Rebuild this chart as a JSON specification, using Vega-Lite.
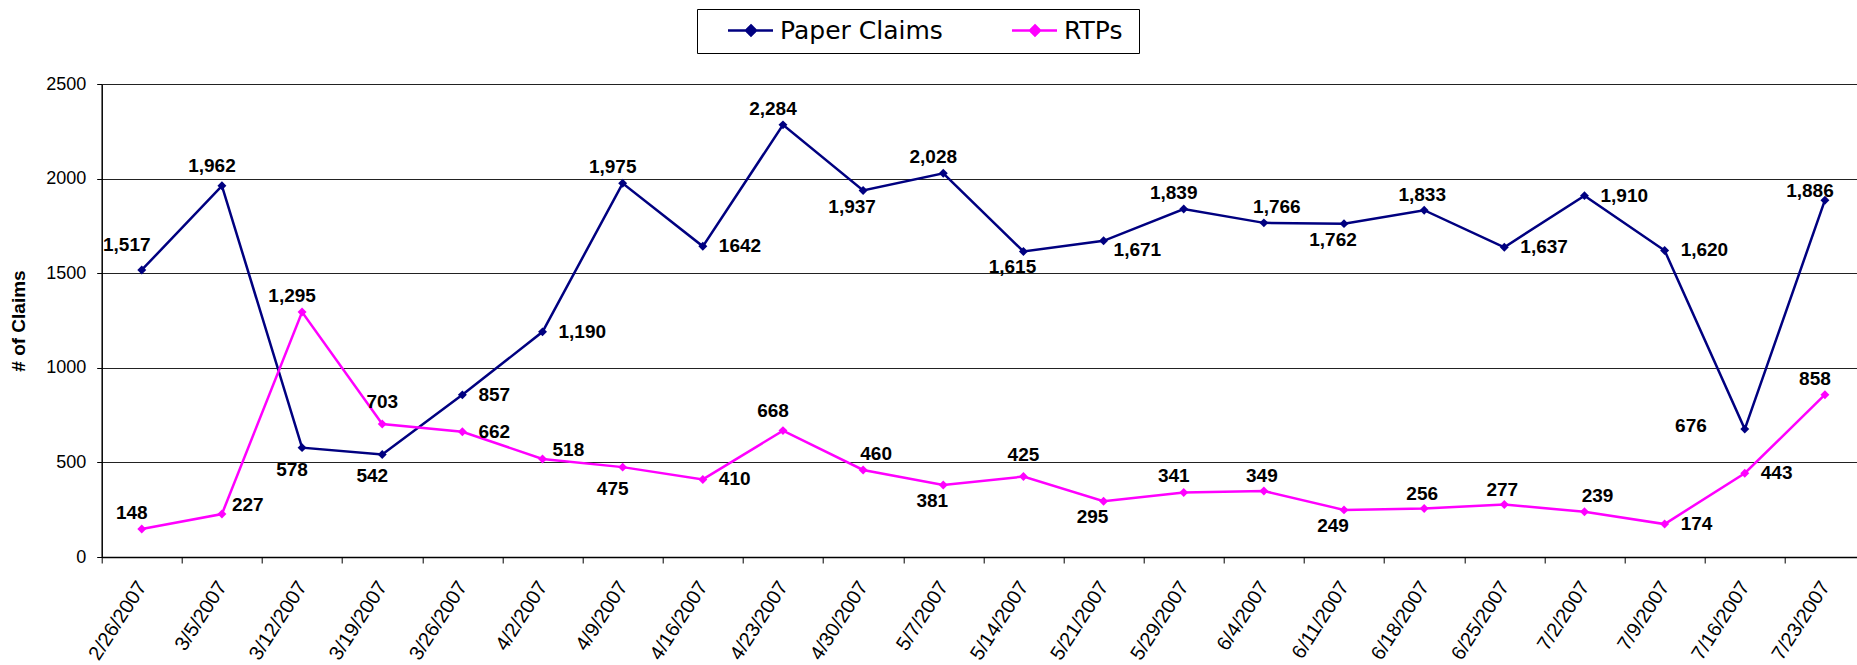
{
  "$schema": "https://vega.github.io/schema/vega-lite/v6.json",
  "width": 1755.3,
  "height": 473,
  "autosize": {"type": "none"},
  "padding": {"left": 101.7, "top": 84, "right": 0, "bottom": 108},
  "background": "white",
  "config": {
    "view": {"stroke": null},
    "text": {"font": "Liberation Sans", "fontSize": 19, "fontWeight": "bold", "color": "black", "baseline": "middle"}
  },
  "data": {
    "values": [
      {"date": "2/26/2007", "series": "Paper Claims", "value": 1517, "label": "1,517"},
      {"date": "3/5/2007", "series": "Paper Claims", "value": 1962, "label": "1,962"},
      {"date": "3/12/2007", "series": "Paper Claims", "value": 578, "label": "578"},
      {"date": "3/19/2007", "series": "Paper Claims", "value": 542, "label": "542"},
      {"date": "3/26/2007", "series": "Paper Claims", "value": 857, "label": "857"},
      {"date": "4/2/2007", "series": "Paper Claims", "value": 1190, "label": "1,190"},
      {"date": "4/9/2007", "series": "Paper Claims", "value": 1975, "label": "1,975"},
      {"date": "4/16/2007", "series": "Paper Claims", "value": 1642, "label": "1642"},
      {"date": "4/23/2007", "series": "Paper Claims", "value": 2284, "label": "2,284"},
      {"date": "4/30/2007", "series": "Paper Claims", "value": 1937, "label": "1,937"},
      {"date": "5/7/2007", "series": "Paper Claims", "value": 2028, "label": "2,028"},
      {"date": "5/14/2007", "series": "Paper Claims", "value": 1615, "label": "1,615"},
      {"date": "5/21/2007", "series": "Paper Claims", "value": 1671, "label": "1,671"},
      {"date": "5/29/2007", "series": "Paper Claims", "value": 1839, "label": "1,839"},
      {"date": "6/4/2007", "series": "Paper Claims", "value": 1766, "label": "1,766"},
      {"date": "6/11/2007", "series": "Paper Claims", "value": 1762, "label": "1,762"},
      {"date": "6/18/2007", "series": "Paper Claims", "value": 1833, "label": "1,833"},
      {"date": "6/25/2007", "series": "Paper Claims", "value": 1637, "label": "1,637"},
      {"date": "7/2/2007", "series": "Paper Claims", "value": 1910, "label": "1,910"},
      {"date": "7/9/2007", "series": "Paper Claims", "value": 1620, "label": "1,620"},
      {"date": "7/16/2007", "series": "Paper Claims", "value": 676, "label": "676"},
      {"date": "7/23/2007", "series": "Paper Claims", "value": 1886, "label": "1,886"},
      {"date": "2/26/2007", "series": "RTPs", "value": 148, "label": "148"},
      {"date": "3/5/2007", "series": "RTPs", "value": 227, "label": "227"},
      {"date": "3/12/2007", "series": "RTPs", "value": 1295, "label": "1,295"},
      {"date": "3/19/2007", "series": "RTPs", "value": 703, "label": "703"},
      {"date": "3/26/2007", "series": "RTPs", "value": 662, "label": "662"},
      {"date": "4/2/2007", "series": "RTPs", "value": 518, "label": "518"},
      {"date": "4/9/2007", "series": "RTPs", "value": 475, "label": "475"},
      {"date": "4/16/2007", "series": "RTPs", "value": 410, "label": "410"},
      {"date": "4/23/2007", "series": "RTPs", "value": 668, "label": "668"},
      {"date": "4/30/2007", "series": "RTPs", "value": 460, "label": "460"},
      {"date": "5/7/2007", "series": "RTPs", "value": 381, "label": "381"},
      {"date": "5/14/2007", "series": "RTPs", "value": 425, "label": "425"},
      {"date": "5/21/2007", "series": "RTPs", "value": 295, "label": "295"},
      {"date": "5/29/2007", "series": "RTPs", "value": 341, "label": "341"},
      {"date": "6/4/2007", "series": "RTPs", "value": 349, "label": "349"},
      {"date": "6/11/2007", "series": "RTPs", "value": 249, "label": "249"},
      {"date": "6/18/2007", "series": "RTPs", "value": 256, "label": "256"},
      {"date": "6/25/2007", "series": "RTPs", "value": 277, "label": "277"},
      {"date": "7/2/2007", "series": "RTPs", "value": 239, "label": "239"},
      {"date": "7/9/2007", "series": "RTPs", "value": 174, "label": "174"},
      {"date": "7/16/2007", "series": "RTPs", "value": 443, "label": "443"},
      {"date": "7/23/2007", "series": "RTPs", "value": 858, "label": "858"}
    ]
  },
  "encoding": {
    "x": {
      "field": "date", "type": "ordinal", "sort": null,
      "scale": {"type": "band", "range": [0, 1763.3], "paddingInner": 0, "paddingOuter": 0},
      "axis": {
        "title": null, "labelAngle": -57, "labelAlign": "right", "labelBaseline": "middle",
        "labelFont": "Liberation Sans", "labelFontSize": 20, "labelColor": "black",
        "labelPadding": 20, "tickSize": 6, "tickBand": "extent", "tickColor": "black",
        "domainColor": "black", "domainWidth": 1.5, "grid": false, "labelOverlap": false, "labelBound": false
      }
    },
    "y": {
      "field": "value", "type": "quantitative",
      "scale": {"domain": [0, 2500], "nice": false, "zero": true},
      "axis": {
        "values": [0, 500, 1000, 1500, 2000, 2500], "format": "d", "grid": true, "gridColor": "#222222", "gridWidth": 1,
        "domainColor": "black", "domainWidth": 1.5, "tickColor": "black", "tickSize": 5,
        "labelFont": "Liberation Sans", "labelFontSize": 18, "labelColor": "black", "labelPadding": 11,
        "title": "# of Claims", "titleFont": "Liberation Sans", "titleFontSize": 19, "titleFontWeight": "bold",
        "titleColor": "black", "titleX": -83.7, "titleBaseline": "middle"
      }
    }
  },
  "layer": [
    {
      "mark": {"type": "line", "strokeWidth": 2.5},
      "encoding": {
        "color": {
          "field": "series", "type": "nominal",
          "scale": {"domain": ["Paper Claims", "RTPs"], "range": ["#000080", "#FF00FF"]},
          "legend": {
            "orient": "none", "legendX": 595.3, "legendY": -75, "direction": "horizontal",
            "title": "xx", "titleOrient": "right", "titleOpacity": 0, "titleFontSize": 5, "titlePadding": 0,
            "titleFont": "DejaVu Sans",
            "symbolType": "M-0.385,0L1,0M0.323,-0.154L0.477,0L0.323,0.154L0.169,0Z",
            "symbolSize": 4225, "symbolStrokeWidth": 2.5, "clipHeight": 24,
            "labelFont": "DejaVu Sans", "labelFontSize": 25, "labelColor": "black", "labelOffset": 5.5,
            "labelLimit": 400,
            "columnPadding": 47, "padding": 9.5, "strokeColor": "#000000", "fillColor": "white",
            "encode": {"symbols": {"update": {"fill": {"scale": "color", "field": "value"}, "stroke": {"scale": "color", "field": "value"}}}}
          }
        }
      }
    },
    {
      "mark": {"type": "point", "shape": "diamond", "filled": true, "size": 80, "opacity": 1},
      "encoding": {
        "color": {"field": "series", "type": "nominal", "legend": null}
      }
    },
    {
      "transform": [{"filter": {"field": "value", "oneOf": [1295, 148, 1975, 2284, 2028, 1839, 341, 858]}}],
      "mark": {"type": "text", "align": "center", "dx": -10, "dy": -16},
      "encoding": {"text": {"field": "label"}}
    },
    {
      "transform": [{"filter": {"field": "value", "oneOf": [1962, 668]}}],
      "mark": {"type": "text", "align": "center", "dx": -10, "dy": -20},
      "encoding": {"text": {"field": "label"}}
    },
    {
      "transform": [{"filter": {"field": "value", "oneOf": [349, 1833, 256, 277]}}],
      "mark": {"type": "text", "align": "center", "dx": -2, "dy": -15},
      "encoding": {"text": {"field": "label"}}
    },
    {
      "transform": [{"filter": {"field": "value", "oneOf": [703, 425]}}],
      "mark": {"type": "text", "align": "center", "dx": 0, "dy": -22},
      "encoding": {"text": {"field": "label"}}
    },
    {
      "transform": [{"filter": {"field": "value", "oneOf": [239, 1766, 460]}}],
      "mark": {"type": "text", "align": "center", "dx": 13, "dy": -16},
      "encoding": {"text": {"field": "label"}}
    },
    {
      "transform": [{"filter": {"field": "value", "oneOf": [578, 542, 475]}}],
      "mark": {"type": "text", "align": "center", "dx": -10, "dy": 22},
      "encoding": {"text": {"field": "label"}}
    },
    {
      "transform": [{"filter": {"field": "value", "oneOf": [1937, 1615, 381, 1762, 295, 249]}}],
      "mark": {"type": "text", "align": "center", "dx": -11, "dy": 16},
      "encoding": {"text": {"field": "label"}}
    },
    {
      "transform": [{"filter": {"field": "value", "oneOf": [857, 1190, 1642, 662, 410, 1637, 1910, 1620, 174, 443]}}],
      "mark": {"type": "text", "align": "left", "dx": 16, "dy": 0},
      "encoding": {"text": {"field": "label"}}
    },
    {
      "transform": [{"filter": {"field": "value", "oneOf": [227, 518]}}],
      "mark": {"type": "text", "align": "left", "dx": 10, "dy": -9},
      "encoding": {"text": {"field": "label"}}
    },
    {
      "transform": [{"filter": {"field": "value", "oneOf": [1671]}}],
      "mark": {"type": "text", "align": "left", "dx": 10, "dy": 9},
      "encoding": {"text": {"field": "label"}}
    },
    {
      "transform": [{"filter": {"field": "value", "oneOf": [676]}}],
      "mark": {"type": "text", "align": "right", "dx": -38, "dy": -3},
      "encoding": {"text": {"field": "label"}}
    },
    {
      "transform": [{"filter": {"field": "value", "oneOf": [1517]}}],
      "mark": {"type": "text", "align": "center", "dx": -15, "dy": -25},
      "encoding": {"text": {"field": "label"}}
    },
    {
      "transform": [{"filter": {"field": "value", "oneOf": [1886]}}],
      "mark": {"type": "text", "align": "center", "dx": -15, "dy": -9},
      "encoding": {"text": {"field": "label"}}
    }
  ]
}
